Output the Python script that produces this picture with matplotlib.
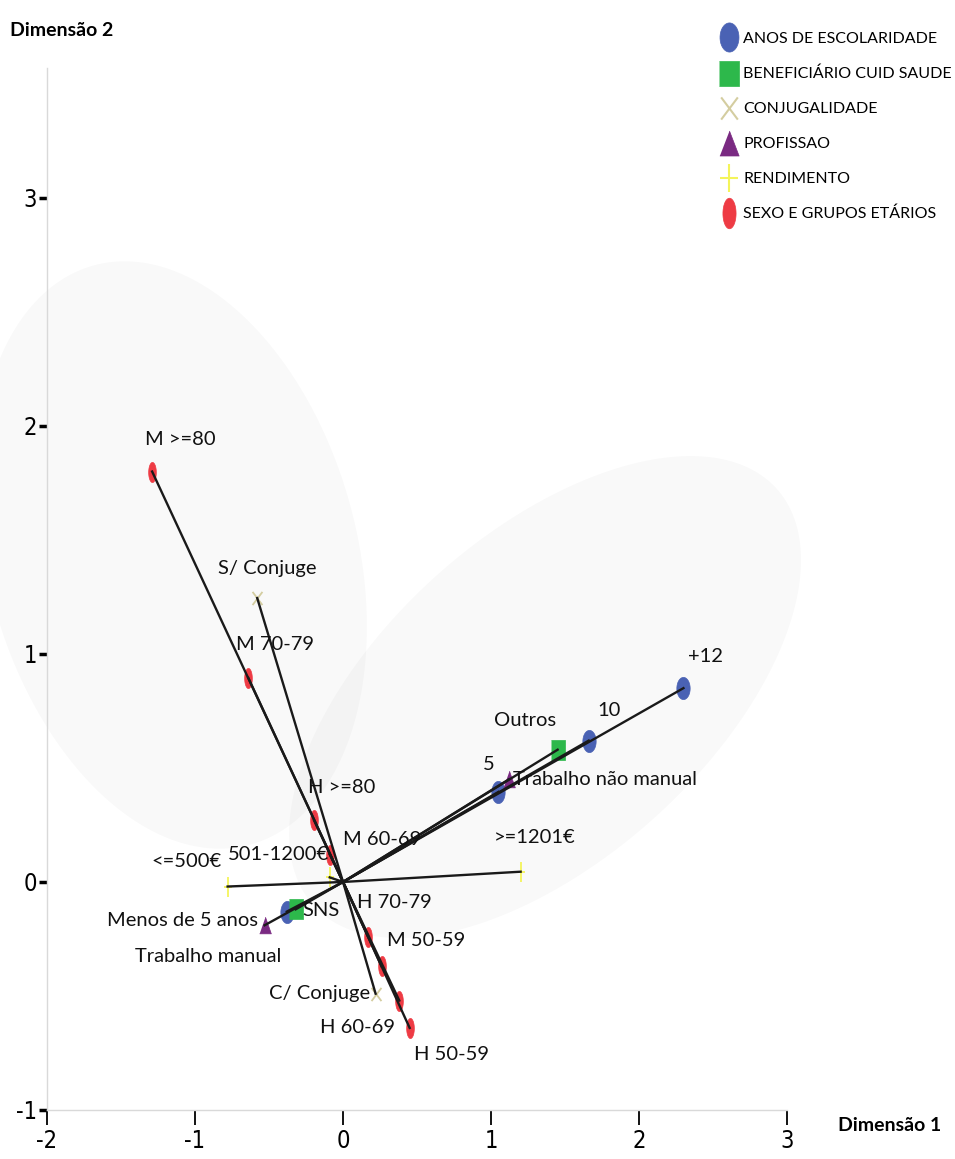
import numpy as np
import matplotlib
matplotlib.use("Agg")
import matplotlib.pyplot as plt
from matplotlib.patches import Polygon
from matplotlib.lines import Line2D
from matplotlib.path import Path

plt.rcParams['font.family'] = ['Lato', 'DejaVu Sans']

# category points (Dimensão 1, Dimensão 2)
groups = ["ANOS DE ESCOLARIDADE", "BENEFICIÁRIO CUID SAUDE", "CONJUGALIDADE",
          "PROFISSAO", "RENDIMENTO", "SEXO E GRUPOS ETÁRIOS"]

esc_labels = ["Menos de 5 anos", "5", "10", "+12"]
esc_x = [-0.38, 1.05, 1.66, 2.30]
esc_y = [-0.13, 0.395, 0.62, 0.85]

ben_labels = ["SNS", "Outros"]
ben_x = [-0.32, 1.45]
ben_y = [-0.12, 0.58]

conj_labels = ["S/ Conjuge", "C/ Conjuge"]
conj_x = [-0.58, 0.22]
conj_y = [1.245, -0.49]

prof_labels = ["Trabalho manual", "Trabalho não manual"]
prof_x = [-0.53, 1.12]
prof_y = [-0.19, 0.45]

rend_labels = ["<=500€", "501-1200€", ">=1201€"]
rend_x = [-0.78, -0.09, 1.20]
rend_y = [-0.02, 0.02, 0.045]

sexo_labels = ["M >=80", "M 70-79", "H >=80", "M 60-69", "H 70-79",
               "M 50-59", "H 60-69", "H 50-59"]
sexo_x = [-1.29, -0.64, -0.196, -0.09, 0.17, 0.26, 0.38, 0.45]
sexo_y = [1.80, 0.895, 0.27, 0.12, -0.24, -0.37, -0.52, -0.64]

# label placement: (ha, dx px, dy px)
lab_pos = {
    "M >=80": ("left", -7, 32), "S/ Conjuge": ("left", -39, 30),
    "M 70-79": ("left", -12, 33), "H >=80": ("left", -6, 33),
    "M 60-69": ("left", 13, 15), "501-1200€": ("right", -1, 23),
    "<=500€": ("right", -6, 25), ">=1201€": ("left", -27, 34),
    "+12": ("left", 5, 32), "10": ("left", 9, 30), "Outros": ("left", -64, 29),
    "5": ("left", -16, 27), "Trabalho não manual": ("left", 4, 0),
    "SNS": ("left", 7, -1), "Menos de 5 anos": ("right", -29, -9),
    "Trabalho manual": ("right", 17, -31), "H 70-79": ("left", -11, 34),
    "M 50-59": ("left", 5, 26), "C/ Conjuge": ("right", -5, 0),
    "H 60-69": ("right", -4, -27), "H 50-59": ("left", 4, -27),
}


# markers are stretched vertically, like in the original export
def mk_ellipse(w):
    t = np.linspace(0, 2 * np.pi, 40)
    return list(zip(w * np.cos(t), np.sin(t)))


def mk_rect(w):
    return [(-w, -1), (w, -1), (w, 1), (-w, 1)]


def mk_tri(w):
    return [(-w, -1), (w, -1), (0, 1)]


def mk_x(w):
    return Path([(-w, -1), (w, 1), (-w, 1), (w, -1)],
                [Path.MOVETO, Path.LINETO, Path.MOVETO, Path.LINETO])


def mk_plus(w):
    return Path([(-w, 0), (w, 0), (0, -1), (0, 1)],
                [Path.MOVETO, Path.LINETO, Path.MOVETO, Path.LINETO])


colors = ["#4a62b4", "#2db84b", "#d4cda0", "#7a2a82", "#f4f45a", "#ee3b44"]
shapes = [mk_ellipse, mk_rect, mk_x, mk_tri, mk_plus, mk_ellipse]
plot_w = [0.6, 0.67, 0.75, 0.7, 0.38, 0.38]
plot_ms = [16, 15, 9.5, 12, 14.5, 14.5]
leg_w = [0.65, 0.78, 0.75, 0.77, 0.64, 0.43]
leg_ms = [21, 18, 16, 18, 20, 22]
line_mk = [False, False, True, False, True, False]

data = [(esc_labels, esc_x, esc_y), (ben_labels, ben_x, ben_y),
        (conj_labels, conj_x, conj_y), (prof_labels, prof_x, prof_y),
        (rend_labels, rend_x, rend_y), (sexo_labels, sexo_x, sexo_y)]

fig = plt.figure(figsize=(9.55, 11.59), dpi=100)
ax = fig.add_axes([0, 0, 1, 1])
ax.set_xlim(-2.318, 4.135)
ax.set_ylim(-1.215, 3.868)

# shaded ellipses (center, semi-axis vectors)
t = np.linspace(0, 2 * np.pi, 200)
ellipses = [((-1.155, 1.434), (0.525, -1.271), (1.207, 0.210)),
            ((1.365, 0.811), (1.565, 0.914), (0.737, -0.531))]
for c, u, v in ellipses:
    ex = c[0] + np.cos(t) * u[0] + np.sin(t) * v[0]
    ey = c[1] + np.cos(t) * u[1] + np.sin(t) * v[1]
    ax.add_patch(Polygon(np.column_stack([ex, ey]), closed=True,
                         facecolor="black", alpha=0.025, edgecolor="none", zorder=0))

handles = []
for i, (labs, xs, ys) in enumerate(data):
    col = colors[i]
    mew = 1.3 if line_mk[i] else 0.5
    ax.plot(xs, ys, linestyle="none", marker=shapes[i](plot_w[i]), ms=plot_ms[i],
            color=col, mec=col, mew=mew, zorder=3)
    for lab, x, y in zip(labs, xs, ys):
        ax.plot([0, x], [0, y], color="#1a1a1a", lw=1.7, zorder=4)
        ha, dx, dy = lab_pos[lab]
        ax.annotate(lab, (x, y), xytext=(dx, dy), textcoords="offset pixels",
                    ha=ha, va="center", fontsize=14.5, color="#111111", zorder=5)
    handles.append(Line2D([], [], linestyle="none", marker=shapes[i](leg_w[i]),
                          color=col, mec=col, mew=1.5 if line_mk[i] else 0.5,
                          ms=leg_ms[i], label=groups[i]))

leg = ax.legend(handles=handles, loc="upper left", bbox_to_anchor=(0.748, 0.978),
                frameon=False, fontsize=11.5, handletextpad=0.4, labelspacing=1.3,
                handlelength=1.0, borderaxespad=0)

for s in ["top", "right"]:
    ax.spines[s].set_visible(False)
for s in ["left", "bottom"]:
    ax.spines[s].set_color("#d9d9d9")
    ax.spines[s].set_linewidth(1)
    ax.spines[s].set_position(("data", -2 if s == "left" else -1))
ax.spines["left"].set_bounds(-1, 3.57)
ax.spines["bottom"].set_bounds(-2, 3)

ax.set_xticks([-2, -1, 0, 1, 2, 3])
ax.set_yticks([-1, 0, 1, 2, 3])
ax.set_xticklabels(["-2", "-1", "0", "1", "2", "3"])
ax.set_yticklabels(["-1", "0", "1", "2", "3"])
ax.tick_params(axis="y", direction="out", length=6, width=2.5, color="black",
               labelsize=17, pad=1)
ax.tick_params(axis="x", direction="out", length=11, width=1.3, color="black",
               labelsize=17, pad=3)
for lb in ax.get_xticklabels() + ax.get_yticklabels():
    lb.set_family("DejaVu Sans")
    lb.set_stretch("condensed")

ax.text(0.01, 0.974, "Dimensão 2", transform=ax.transAxes, fontsize=14,
        fontweight="bold", ha="left", va="center")
ax.text(0.877, 0.029, "Dimensão 1", transform=ax.transAxes, fontsize=14,
        fontweight="bold", ha="left", va="center")

fig.savefig("out.png", dpi=100)
